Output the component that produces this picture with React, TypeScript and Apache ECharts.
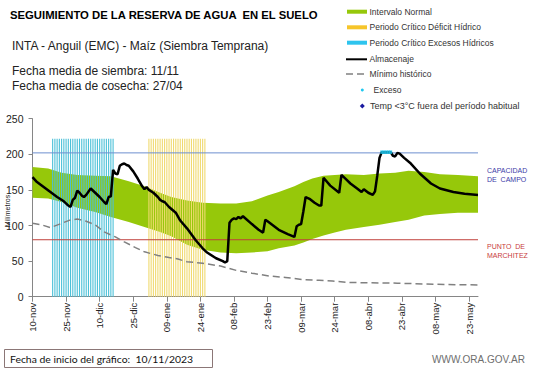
import React, { useEffect, useRef } from 'react';
import * as echarts from 'echarts';

// ---- DATA ----
const tickLabels = ['10-nov', '25-nov', '10-dic', '25-dic', '09-ene', '24-ene', '08-feb', '23-feb', '09-mar', '24-mar', '08-abr', '23-abr', '08-may', '23-may'];
const tickStep = 15;
const dayCount = 200;

const almDays = [0, 2, 5, 8, 11, 14, 16, 17, 18, 19, 20, 21, 22, 23, 24, 26, 28, 30, 32, 33, 34, 35, 36, 37, 38, 39, 40, 41, 42, 43, 45, 47, 49, 50, 51, 52, 54, 56, 57, 58, 59, 61, 64, 66, 69, 73, 76, 78, 82, 85, 86, 87, 88, 89, 90, 91, 92, 93, 94, 98, 101, 103, 104, 105, 110, 114, 117, 118, 119, 120, 121, 122, 124, 126, 128, 129, 130, 133, 137, 138, 140, 142, 145, 147, 148, 150, 152, 153, 154, 155, 156, 160, 161, 162, 163, 164, 166, 169, 173, 178, 182, 188, 193, 199];
const almValues = [168, 161, 154, 147, 140, 134, 128, 126, 136, 139, 149, 146, 142, 140, 143, 152, 146, 140, 133, 130, 140, 141, 178, 173, 172, 184, 186, 187, 185, 184, 176, 166, 155, 151, 154, 150, 146, 140, 136, 134, 133, 126, 118, 107, 96, 79, 68, 62, 54, 50, 48, 50, 104, 108, 110, 109, 112, 110, 113, 102, 94, 90, 108, 106, 94, 88, 84, 99, 101, 102, 120, 140, 137, 132, 128, 128, 167, 156, 146, 171, 165, 159, 152, 147, 151, 146, 143, 148, 170, 195, 203, 203, 198, 197, 202, 201, 195, 187, 173, 159, 152, 147, 144.5, 143];

const minDays = [0, 4, 8, 13, 17, 20, 24, 28, 32, 37, 41, 46, 50, 56, 61, 65, 69, 76, 84, 91, 98, 106, 113, 121, 128, 134, 141, 163, 185, 199];
const minValues = [103, 101, 97, 103, 108, 109, 106, 101, 91, 84, 77, 69, 63, 58, 55, 53, 49, 47, 43, 37, 33, 29, 27, 24, 23, 22, 20, 19, 17, 16.5];

const bandDays = [0, 7, 13, 20, 28, 35, 43, 50, 57, 62, 69, 76, 84, 91, 98, 105, 110, 117, 121, 125, 130, 135, 140, 148, 155, 162, 168, 175, 182, 190, 199];
const bandUpper = [182, 180, 174, 171, 170, 169, 162, 155, 146, 140, 135, 132, 131, 131, 134, 142, 147, 155, 161, 166, 170, 171, 172, 171, 173, 174, 177, 175, 172, 171, 169];
const bandLower = [139, 138, 133, 125, 119, 112, 105, 98, 91, 85, 73, 66, 62, 61, 62, 64, 68, 72, 76, 81, 86, 90, 94, 98, 101, 105, 108, 114, 116, 118, 118];

const excesoPeriodDays = [9, 10, 11, 12, 13, 14, 15, 16, 17, 18, 19, 20, 21, 22, 23, 24, 25, 26, 27, 28, 29, 30, 31, 32, 33, 34, 35, 36];
const deficitPeriodDays = [52, 53, 54, 55, 56, 57, 58, 59, 60, 61, 62, 63, 64, 65, 66, 67, 68, 69, 70, 71, 72, 73, 74, 75, 76, 77];
const periodTop = 222;

const excesoDays = [156, 157, 158, 159, 160];
const excesoValues = [203, 203, 203, 203, 203];

const capacidadCampo = 202;
const puntoMarchitez = 80;

const yTicks = [0, 50, 100, 150, 200, 250];

// ---- COLOURS ----
const GREEN = '#96c80a';
const CYAN_BAR = '#4cc0d8';
const YELLOW_BAR = '#f0da70';
const FONT = 'Liberation Sans, Arial, sans-serif';

export default function App() {
  const ref = useRef<HTMLDivElement>(null);

  useEffect(() => {
    if (!ref.current) return;
    const chart = echarts.init(ref.current, undefined, { renderer: 'svg' });

    const categories = Array.from({ length: dayCount }, (_, i) => String(i));
    const pairs = (xs: number[], ys: number[]) => xs.map((x, i) => [x, ys[i]]);
    const isTick = (idx: number) => idx % tickStep === 0;

    const legendText = (x: number, y: number, text: string, size = 8.5) => ({
      type: 'text', x, y,
      style: { text, fill: '#333', font: `${size}px ${FONT}`, verticalAlign: 'middle', align: 'left' },
    });

    const option: any = {
      animation: false,
      backgroundColor: '#ffffff',
      textStyle: { fontFamily: FONT },
      grid: { left: 32.5, right: 63, top: 118.7, bottom: 71.3, containLabel: false },
      xAxis: {
        type: 'category',
        data: categories,
        boundaryGap: false,
        axisLine: { lineStyle: { color: '#868686', width: 1 } },
        axisTick: { show: true, interval: (i: number) => isTick(i), length: 5, lineStyle: { color: '#868686' } },
        axisLabel: {
          interval: (i: number) => isTick(i),
          rotate: 90,
          margin: 6,
          fontSize: 9.5,
          color: '#222',
          formatter: (_v: string, i: number) => (isTick(i) ? tickLabels[i / tickStep] : ''),
        },
        splitLine: { show: false },
      },
      yAxis: {
        type: 'value',
        min: yTicks[0],
        max: yTicks[yTicks.length - 1],
        interval: 50,
        axisLine: { show: true, lineStyle: { color: '#868686', width: 1 } },
        axisTick: { show: true, length: 4, lineStyle: { color: '#868686' } },
        axisLabel: { fontSize: 10.5, color: '#222', margin: 9 },
        splitLine: { show: false },
      },
      series: [
        {
          name: 'Intervalo Normal',
          type: 'custom',
          z: 1,
          clip: true,
          data: [[0, 0]],
          renderItem: (_p: any, api: any) => {
            const top = bandDays.map((d, i) => api.coord([d, bandUpper[i]]));
            const bot = bandDays.map((d, i) => api.coord([d, bandLower[i]])).reverse();
            return { type: 'polygon', shape: { points: top.concat(bot) }, style: { fill: GREEN } };
          },
        },
        {
          name: 'Periodo Crítico Excesos Hídricos',
          type: 'bar',
          z: 2,
          barWidth: 1.1,
          barGap: '-100%',
          itemStyle: { color: CYAN_BAR },
          data: excesoPeriodDays.map((d) => [d, periodTop]),
        },
        {
          name: 'Periodo Crítico Déficit Hídrico',
          type: 'bar',
          z: 2,
          barWidth: 1.1,
          barGap: '-100%',
          itemStyle: { color: YELLOW_BAR },
          data: deficitPeriodDays.map((d) => [d, periodTop]),
        },
        {
          name: 'Capacidad de campo',
          type: 'line',
          z: 3,
          symbol: 'none',
          lineStyle: { color: '#6d8fcf', width: 1 },
          data: [[0, capacidadCampo], [dayCount - 1, capacidadCampo]],
        },
        {
          name: 'Punto de marchitez',
          type: 'line',
          z: 3,
          symbol: 'none',
          lineStyle: { color: '#c0403c', width: 1 },
          data: [[0, puntoMarchitez], [dayCount - 1, puntoMarchitez]],
        },
        {
          name: 'Mínimo histórico',
          type: 'line',
          z: 4,
          symbol: 'none',
          lineStyle: { color: '#808080', width: 1.5, type: [7, 4] },
          data: pairs(minDays, minValues),
        },
        {
          name: 'Almacenaje',
          type: 'line',
          z: 5,
          symbol: 'none',
          lineStyle: { color: '#000', width: 2.5 },
          data: pairs(almDays, almValues),
        },
        {
          name: 'Exceso',
          type: 'scatter',
          z: 6,
          symbol: 'rect',
          symbolSize: [3, 3.5],
          itemStyle: { color: '#1ec8f0' },
          data: pairs(excesoDays, excesoValues),
        },
      ],
      graphic: [
        { type: 'text', x: 10, y: 14.5, style: { text: 'SEGUIMIENTO DE LA RESERVA DE AGUA  EN EL SUELO', font: `bold 11.3px ${FONT}`, fill: '#000', verticalAlign: 'middle' } },
        { type: 'text', x: 12, y: 46, style: { text: 'INTA - Anguil (EMC) - Maíz (Siembra Temprana)', font: `12px ${FONT}`, fill: '#222', verticalAlign: 'middle' } },
        { type: 'text', x: 12, y: 71, style: { text: 'Fecha media de siembra: 11/11', font: `12px ${FONT}`, fill: '#222', verticalAlign: 'middle' } },
        { type: 'text', x: 12, y: 86, style: { text: 'Fecha media de cosecha: 27/04', font: `12px ${FONT}`, fill: '#222', verticalAlign: 'middle' } },

        // legend
        { type: 'rect', shape: { x: 347, y: 9.7, width: 20, height: 4 }, style: { fill: GREEN } },
        legendText(369.5, 11.7, 'Intervalo Normal'),
        { type: 'rect', shape: { x: 347, y: 25.3, width: 20, height: 4 }, style: { fill: '#f6c52a' } },
        legendText(369.5, 27.3, 'Periodo Crítico Déficit Hídrico'),
        { type: 'rect', shape: { x: 347, y: 40.7, width: 20, height: 4 }, style: { fill: '#2ec4ee' } },
        legendText(369.5, 42.7, 'Periodo Crítico Excesos Hídricos'),
        { type: 'line', shape: { x1: 346, y1: 59.3, x2: 367, y2: 59.3 }, style: { stroke: '#000', lineWidth: 2 } },
        legendText(369.5, 59.3, 'Almacenaje'),
        { type: 'line', shape: { x1: 346, y1: 74, x2: 367, y2: 74 }, style: { stroke: '#808080', lineWidth: 1.5, lineDash: [7, 4] } },
        legendText(369.5, 74, 'Mínimo histórico'),
        { type: 'circle', shape: { cx: 362.3, cy: 90, r: 1.5 }, style: { fill: '#1ec8f0' } },
        legendText(373.5, 90, 'Exceso'),
        { type: 'polygon', shape: { points: [[362.3, 103.5], [364.8, 106], [362.3, 108.5], [359.8, 106]] }, style: { fill: '#1a1aa0' } },
        legendText(370, 106, 'Temp <3°C fuera del período habitual', 9),

        // y-axis name
        { type: 'text', x: 7.5, y: 211, rotation: Math.PI / 2, style: { text: 'Milímetros', font: `7px ${FONT}`, fill: '#222', align: 'center', verticalAlign: 'middle' } },

        // right labels
        { type: 'text', x: 487, y: 170.5, style: { text: 'CAPACIDAD', font: `7px ${FONT}`, fill: '#3c3ca8', verticalAlign: 'middle' } },
        { type: 'text', x: 487, y: 179, style: { text: 'DE  CAMPO', font: `7px ${FONT}`, fill: '#3c3ca8', verticalAlign: 'middle' } },
        { type: 'text', x: 487, y: 246.7, style: { text: 'PUNTO  DE', font: `7px ${FONT}`, fill: '#c83c3c', verticalAlign: 'middle' } },
        { type: 'text', x: 487, y: 255.2, style: { text: 'MARCHITEZ', font: `7px ${FONT}`, fill: '#c83c3c', verticalAlign: 'middle' } },

        // bottom box
        { type: 'rect', shape: { x: 4.5, y: 349.5, width: 208, height: 18 }, style: { fill: '#fff', stroke: '#8b7676', lineWidth: 1 } },
        { type: 'text', x: 10, y: 358.5, style: { text: 'Fecha de inicio del gráfico:  10/11/2023', font: `10.4px Lato, ${FONT}`, fill: '#111', verticalAlign: 'middle' } },
        { type: 'text', x: 525, y: 359, style: { text: 'WWW.ORA.GOV.AR', font: `10px ${FONT}`, fill: '#6e6e6e', align: 'right', verticalAlign: 'middle' } },
      ],
    };

    chart.setOption(option);
    return () => chart.dispose();
  }, []);

  return (
    <div
      ref={ref}
      style={{ position: 'absolute', left: 0, top: 0, width: 541, height: 368, background: '#fff' }}
    />
  );
}
